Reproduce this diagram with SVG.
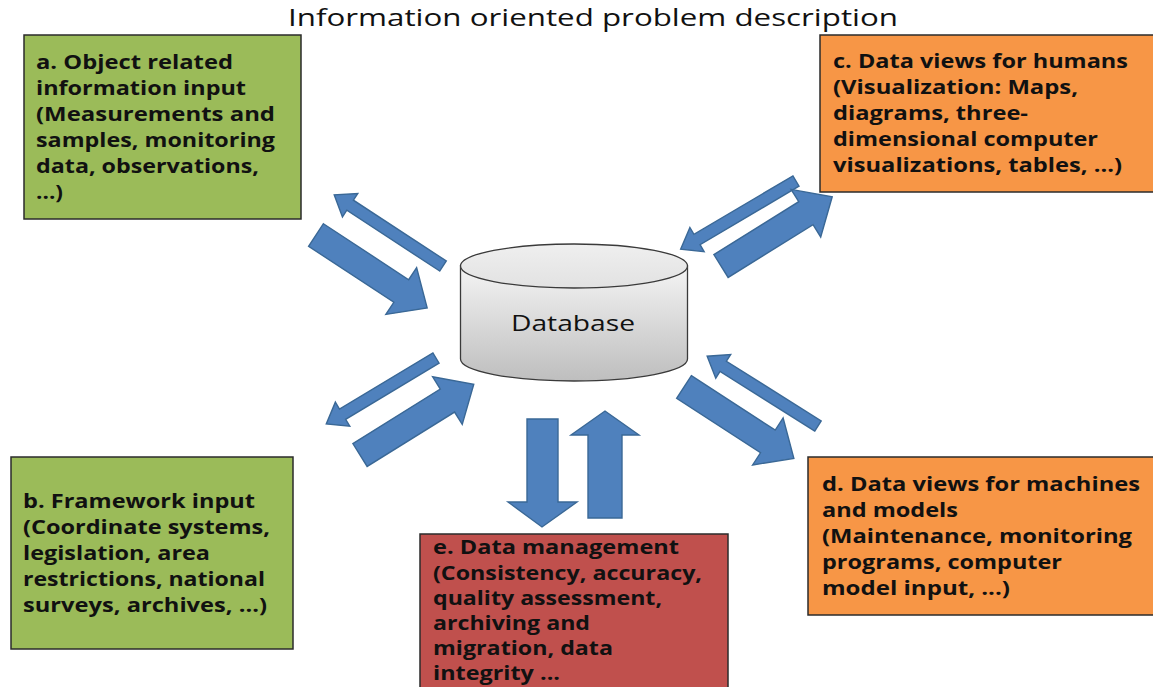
<svg xmlns="http://www.w3.org/2000/svg" width="1153" height="687" viewBox="0 0 1153 687">
<defs>
<linearGradient id="body" x1="0" y1="0" x2="0" y2="1">
<stop offset="0" stop-color="#F4F4F4"/>
<stop offset="1" stop-color="#BEBEBE"/>
</linearGradient>
<linearGradient id="top" x1="0" y1="0" x2="0" y2="1">
<stop offset="0" stop-color="#EFEFEF"/>
<stop offset="1" stop-color="#E2E2E2"/>
</linearGradient>
</defs>
<style>
.box{stroke:#2b2b2b;stroke-width:1.5}
.green{fill:#9BBB59}
.orange{fill:#F79646}
.red{fill:#C0504D}
.lbl{font-family:"Open Sans","Noto Sans",sans-serif;font-weight:bold;font-size:19px;fill:#111}
.arr{fill:#4F81BD;stroke:#3A6896;stroke-width:1.4}
.title{font-family:"Open Sans","Noto Sans",sans-serif;font-size:24px;fill:#111}
.db{font-family:"Open Sans","Noto Sans",sans-serif;font-size:22px;fill:#111}
</style>
<rect width="1153" height="687" fill="#fff"/>
<text class="title" x="288" y="26" textLength="610" lengthAdjust="spacingAndGlyphs">Information oriented problem description</text>

<g id="connectors">
<polygon class="arr" transform="translate(443,266) rotate(213.2)" points="0,-6 111,-6 111,-14 130,0 111,14 111,6 0,6"/>
<polygon class="arr" transform="translate(316,235) rotate(33.3)" points="0,-13.5 102,-13.5 102,-28 133,0 102,28 102,13.5 0,13.5"/>
<polygon class="arr" transform="translate(796,181) rotate(149.4)" points="0,-6 115,-6 115,-14 134,0 115,14 115,6 0,6"/>
<polygon class="arr" transform="translate(721,266) rotate(-31.9)" points="0,-13.5 100,-13.5 100,-28 131,0 100,28 100,13.5 0,13.5"/>
<polygon class="arr" transform="translate(436,358) rotate(149)" points="0,-6 109,-6 109,-14 128,0 109,14 109,6 0,6"/>
<polygon class="arr" transform="translate(360,455) rotate(-31.9)" points="0,-13.5 103,-13.5 103,-28 134,0 103,28 103,13.5 0,13.5"/>
<polygon class="arr" transform="translate(818,426) rotate(212.2)" points="0,-6 112,-6 112,-14 131,0 112,14 112,6 0,6"/>
<polygon class="arr" transform="translate(684,387) rotate(33)" points="0,-13.5 100,-13.5 100,-28 131,0 100,28 100,13.5 0,13.5"/>
<polygon class="arr" points="527,419 558,419 558,502 577,502 542,527 508,502 527,502"/>
<polygon class="arr" points="588,518 622,518 622,435 639,435 605,411 571,435 588,435"/>
</g>

<g id="database">
<path d="M460.5,266 L460.5,359 A113.5,22 0 0 0 687.5,359 L687.5,266 Z" fill="url(#body)" stroke="#3a3a3a" stroke-width="1.3"/>
<ellipse cx="574" cy="266" rx="113.5" ry="22" fill="url(#top)" stroke="#3a3a3a" stroke-width="1.3"/>
<text class="db" x="511" y="331" textLength="124" lengthAdjust="spacingAndGlyphs">Database</text>
</g>

<g id="node-a">
<rect class="box green" x="24" y="35" width="277" height="184"/>
<text class="lbl">
<tspan x="36" y="69" textLength="197" lengthAdjust="spacingAndGlyphs">a. Object related</tspan>
<tspan x="36" y="95" textLength="210" lengthAdjust="spacingAndGlyphs">information input</tspan>
<tspan x="36" y="121" textLength="239" lengthAdjust="spacingAndGlyphs">(Measurements and</tspan>
<tspan x="36" y="147" textLength="239" lengthAdjust="spacingAndGlyphs">samples, monitoring</tspan>
<tspan x="36" y="173" textLength="223" lengthAdjust="spacingAndGlyphs">data, observations,</tspan>
<tspan x="36" y="199" textLength="27" lengthAdjust="spacingAndGlyphs">...)</tspan>
</text>
</g>

<g id="node-b">
<rect class="box green" x="11" y="457" width="282" height="192"/>
<text class="lbl">
<tspan x="23" y="508" textLength="232" lengthAdjust="spacingAndGlyphs">b. Framework input</tspan>
<tspan x="23" y="534" textLength="247" lengthAdjust="spacingAndGlyphs">(Coordinate systems,</tspan>
<tspan x="23" y="560" textLength="187" lengthAdjust="spacingAndGlyphs">legislation, area</tspan>
<tspan x="23" y="586" textLength="242" lengthAdjust="spacingAndGlyphs">restrictions, national</tspan>
<tspan x="23" y="612" textLength="244" lengthAdjust="spacingAndGlyphs">surveys, archives, ...)</tspan>
</text>
</g>

<g id="node-c">
<rect class="box orange" x="820" y="35" width="345" height="157"/>
<text class="lbl">
<tspan x="833" y="68" textLength="295" lengthAdjust="spacingAndGlyphs">c. Data views for humans</tspan>
<tspan x="833" y="94" textLength="245" lengthAdjust="spacingAndGlyphs">(Visualization: Maps,</tspan>
<tspan x="833" y="120" textLength="195" lengthAdjust="spacingAndGlyphs">diagrams, three-</tspan>
<tspan x="833" y="146" textLength="265" lengthAdjust="spacingAndGlyphs">dimensional computer</tspan>
<tspan x="833" y="172" textLength="289" lengthAdjust="spacingAndGlyphs">visualizations, tables, ...)</tspan>
</text>
</g>

<g id="node-d">
<rect class="box orange" x="808" y="457" width="357" height="158"/>
<text class="lbl">
<tspan x="822" y="491" textLength="318" lengthAdjust="spacingAndGlyphs">d. Data views for machines</tspan>
<tspan x="822" y="517" textLength="136" lengthAdjust="spacingAndGlyphs">and models</tspan>
<tspan x="822" y="543" textLength="310" lengthAdjust="spacingAndGlyphs">(Maintenance, monitoring</tspan>
<tspan x="822" y="569" textLength="240" lengthAdjust="spacingAndGlyphs">programs, computer</tspan>
<tspan x="822" y="595" textLength="188" lengthAdjust="spacingAndGlyphs">model input, ...)</tspan>
</text>
</g>

<g id="node-e">
<rect class="box red" x="420" y="534" width="308" height="170"/>
<text class="lbl">
<tspan x="433" y="554" textLength="246" lengthAdjust="spacingAndGlyphs">e. Data management</tspan>
<tspan x="433" y="580" textLength="269" lengthAdjust="spacingAndGlyphs">(Consistency, accuracy,</tspan>
<tspan x="433" y="605" textLength="229" lengthAdjust="spacingAndGlyphs">quality assessment,</tspan>
<tspan x="433" y="630" textLength="157" lengthAdjust="spacingAndGlyphs">archiving and</tspan>
<tspan x="433" y="655" textLength="180" lengthAdjust="spacingAndGlyphs">migration, data</tspan>
<tspan x="433" y="680" textLength="127" lengthAdjust="spacingAndGlyphs">integrity ...</tspan>
</text>
</g>
</svg>
